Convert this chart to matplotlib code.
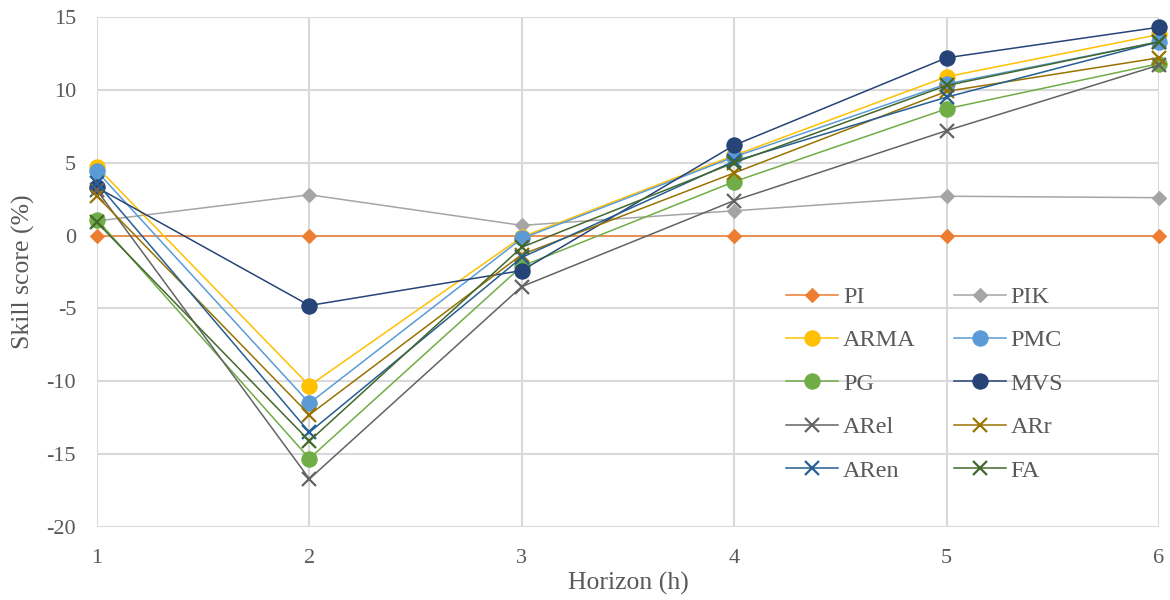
import matplotlib.pyplot as plt

# ==========================================
# 1. DADOS
# ==========================================
horizonte = [1, 2, 3, 4, 5, 6]

pi   = [0.0, 0.0, 0.0, 0.0, 0.0, 0.0]
pik  = [1.0, 2.8, 0.7, 1.7, 2.7, 2.6]
arma = [4.7, -10.3, -0.1, 5.5, 10.9, 13.8]
pmc  = [4.4, -11.5, -0.2, 5.4, 10.4, 13.3]
pg   = [1.1, -15.3, -2.1, 3.7, 8.7, 11.8]
mvs  = [3.3, -4.8, -2.4, 6.2, 12.2, 14.3]
arel = [3.1, -16.7, -3.5, 2.4, 7.2, 11.7]
arr  = [2.7, -12.3, -1.3, 4.3, 9.9, 12.2]
aren = [3.6, -13.5, -1.5, 5.1, 9.5, 13.3]
fa   = [0.9, -14.1, -0.8, 5.0, 10.3, 13.3]

nomes = ['PI', 'PIK', 'ARMA', 'PMC', 'PG', 'MVS', 'ARel', 'ARr', 'ARen', 'FA']
series = [pi, pik, arma, pmc, pg, mvs, arel, arr, aren, fa]

# ==========================================
# 2. ESTILO
# ==========================================
cores = ['#ED7D31', '#A5A5A5', '#FFC000', '#5B9BD5', '#70AD47',
         '#264478', '#636363', '#997300', '#255E91', '#43682B']
marcadores = ['D', 'D', 'o', 'o', 'o', 'o', 'x', 'x', 'x', 'x']
tamanhos = [7.5, 7.5, 11, 11, 11, 11, 10, 10, 10, 10]

plt.rcParams['font.family'] = ['Liberation Serif', 'DejaVu Serif']
plt.rcParams['axes.unicode_minus'] = False

fig = plt.figure(figsize=(11.7, 6), dpi=100)
ax = fig.add_axes([97 / 1170, 1 - 527 / 600, (1159 - 97) / 1170, (527 - 17) / 600])

linhas = []
for nome, y, c, m, s in zip(nomes, series, cores, marcadores, tamanhos):
    l, = ax.plot(horizonte, y, color=c, marker=m, markersize=s, linewidth=1.1,
                 markeredgewidth=1.6 if m == 'x' else 0.8, label=nome, clip_on=False)
    linhas.append(l)

ax.set_xlim(1, 6)
ax.set_ylim(-20, 15)
ax.set_xticks(horizonte)
ax.set_yticks(range(-20, 16, 5))
ax.grid(True, color='#D9D9D9', linewidth=1.5)
ax.set_axisbelow(True)
for sp in ax.spines.values():
    sp.set_visible(False)
ax.tick_params(length=0, labelsize=16, colors='#595959')
ax.tick_params(axis='y', pad=15)
ax.tick_params(axis='x', pad=16)

ax.set_xlabel('Horizon (h)', fontsize=18.5, color='#595959', labelpad=3)
ax.set_ylabel('Skill score (%)', fontsize=18.5, color='#595959', labelpad=8)

# legenda em duas colunas, preenchida por linha
ordem = [0, 2, 4, 6, 8, 1, 3, 5, 7, 9]
leg = fig.legend([linhas[i] for i in ordem], [nomes[i] for i in ordem],
                 loc='upper left', bbox_to_anchor=(786 / 1170, 1 - 286 / 600),
                 ncol=2, frameon=False, fontsize=17.5, handlelength=2.15,
                 handletextpad=0.2, columnspacing=1.55, labelspacing=0.88,
                 borderpad=0, borderaxespad=0)
for t in leg.get_texts():
    t.set_color('#595959')

plt.savefig('out.png', dpi=100)
plt.close()
